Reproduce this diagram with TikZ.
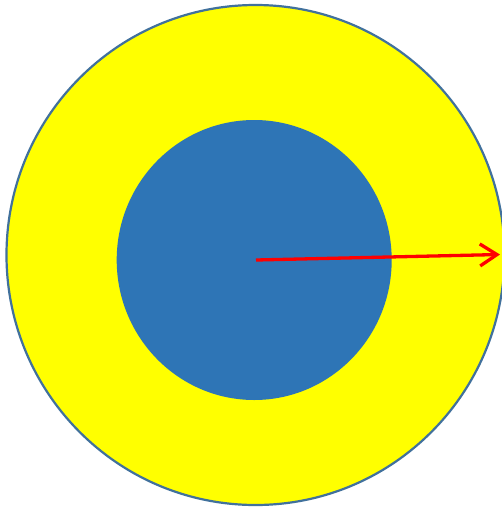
\documentclass[tikz,border=0pt]{standalone}
\usetikzlibrary{arrows.meta}
\definecolor{outline}{HTML}{41719C}
\definecolor{innerblue}{HTML}{2E75B6}
\definecolor{ringyellow}{HTML}{FFFF00}
\definecolor{arrowred}{HTML}{FF0000}
\begin{document}
\begin{tikzpicture}[x=1pt,y=-1pt]
\useasboundingbox (0,0) rectangle (502,509);
\clip (0,0) rectangle (502,509);
\fill[white] (0,0) rectangle (502,509);
\draw[fill=ringyellow, draw=outline, line width=2.2pt] (255.5,255) ellipse [x radius=249, y radius=250];
\fill[innerblue] (254.2,260) ellipse [x radius=137.5, y radius=140];
\coordinate (c) at (256,260);
\coordinate (tip) at (500,254.5);
\draw[arrowred, line width=3.3pt, -{Straight Barb[length=17pt,width=22pt]}] (c) -- (tip);
\end{tikzpicture}
\end{document}
